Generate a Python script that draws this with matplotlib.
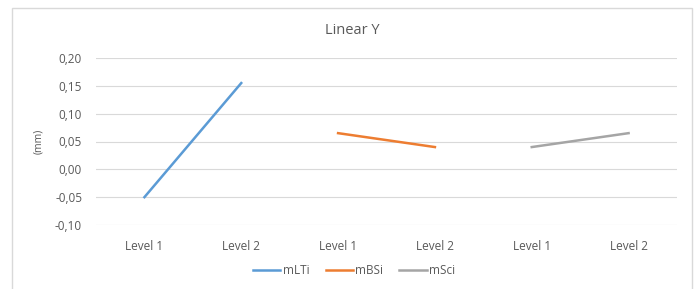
import matplotlib
matplotlib.use("Agg")
import matplotlib.pyplot as plt
import numpy as np
from matplotlib.patches import Rectangle

categories = ["Level 1", "Level 2", "Level 1", "Level 2", "Level 1", "Level 2"]
mLTi = [-0.05, 0.155, np.nan, np.nan, np.nan, np.nan]
mBSi = [np.nan, np.nan, 0.065, 0.040, np.nan, np.nan]
mSci = [np.nan, np.nan, np.nan, np.nan, 0.040, 0.065]
yticks = [-0.10, -0.05, 0.00, 0.05, 0.10, 0.15, 0.20]

plt.rcParams['font.family'] = ['Open Sans', 'DejaVu Sans']
txt = '#595959'

fig = plt.figure(figsize=(6.96, 2.89), dpi=100)
fig.patches.append(Rectangle((12/696, -0.01), (692-12)/696, 1 - 8/289 + 0.01,
                             transform=fig.transFigure, fill=False,
                             edgecolor='#d9d9d9', linewidth=1))
ax = fig.add_axes([96/696, 1 - 225/289, (677-96)/696, (225-58)/289])

x = np.arange(len(categories))
ax.plot(x, mLTi, color='#5B9BD5', lw=1.8, label='mLTi')
ax.plot(x, mBSi, color='#ED7D31', lw=1.8, label='mBSi')
ax.plot(x, mSci, color='#A5A5A5', lw=1.8, label='mSci')

ax.set_xlim(-0.5, len(categories) - 0.5)
ax.set_ylim(-0.10, 0.20)
ax.set_yticks(yticks)
ax.set_yticklabels([f"{v:.2f}".replace('.', ',') for v in yticks])
ax.set_xticks(x)
ax.set_xticklabels(categories)
ax.tick_params(axis='both', length=0, labelsize=8.5, colors=txt)
ax.tick_params(axis='x', pad=11)
ax.tick_params(axis='y', pad=10)
ax.grid(axis='y', color='#d9d9d9', lw=0.8)
for s in ax.spines.values():
    s.set_visible(False)
ax.set_axisbelow(True)

ax.set_ylabel('(mm)', fontsize=7.5, color=txt, labelpad=8)
fig.text(352/696, 1 - 31/289, 'Linear Y', ha='center', va='center', fontsize=10.5, color=txt)

leg = fig.legend(loc='center', bbox_to_anchor=(354/696, 1 - 271/289), ncol=3,
                 frameon=False, fontsize=8.5, handlelength=2.3, columnspacing=1.4,
                 handletextpad=0.2)
for t in leg.get_texts():
    t.set_color(txt)

fig.savefig('out.png', dpi=100)
